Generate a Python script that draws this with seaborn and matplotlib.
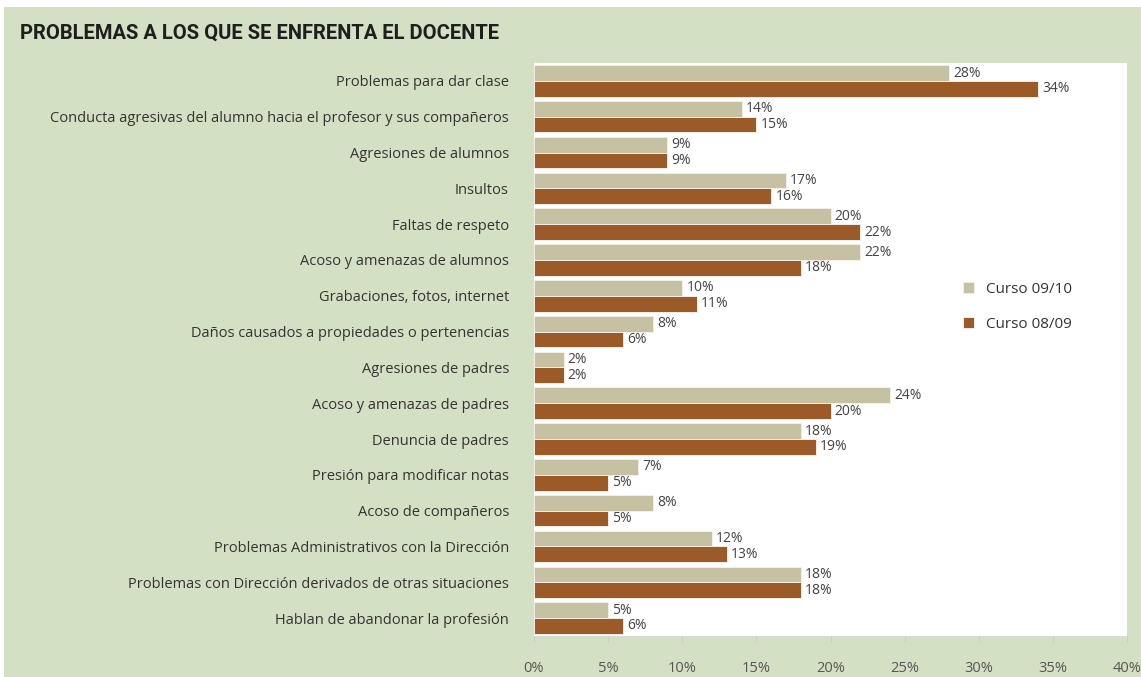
import matplotlib
matplotlib.use("Agg")
import matplotlib.pyplot as plt
from matplotlib.patches import Rectangle
import seaborn as sns
import pandas as pd

# data, top to bottom
categorias = [
    "Problemas para dar clase",
    "Conducta agresivas del alumno hacia el profesor y sus compañeros",
    "Agresiones de alumnos",
    "Insultos",
    "Faltas de respeto",
    "Acoso y amenazas de alumnos",
    "Grabaciones, fotos, internet",
    "Daños causados a propiedades o pertenencias",
    "Agresiones de padres",
    "Acoso y amenazas de padres",
    "Denuncia de padres",
    "Presión para modificar notas",
    "Acoso de compañeros",
    "Problemas Administrativos con la Dirección",
    "Problemas con Dirección derivados de otras situaciones",
    "Hablan de abandonar la profesión",
]
curso_0910 = [28, 14, 9, 17, 20, 22, 10, 8, 2, 24, 18, 7, 8, 12, 18, 5]
curso_0809 = [34, 15, 9, 16, 22, 18, 11, 6, 2, 20, 19, 5, 5, 13, 18, 6]
series = ["Curso 09/10", "Curso 08/09"]
x_ticks = [0, 5, 10, 15, 20, 25, 30, 35, 40]

BG = "#d4e0c4"
C_BEIGE = "#c7c1a4"
C_BROWN = "#9c5a28"

df = pd.DataFrame({
    "problema": categorias * 2,
    "valor": curso_0910 + curso_0809,
    "curso": [series[0]] * len(categorias) + [series[1]] * len(categorias),
})

sns.set_theme(style="white")
plt.rcParams["font.family"] = ["Open Sans", "DejaVu Sans"]

fig = plt.figure(figsize=(11.41, 6.77), dpi=100)
fig.patch.set_facecolor("white")
fig.patches.append(Rectangle((4 / 1141, 0), 1, 670 / 677, transform=fig.transFigure,
                             facecolor=BG, edgecolor="none", zorder=-10))

ax = fig.add_axes([534 / 1141, 1 - 636 / 677, (1127 - 534) / 1141, (636 - 63) / 677])
ax.set_facecolor("white")

sns.barplot(data=df, y="problema", x="valor", hue="curso", orient="h",
            palette=[C_BEIGE, C_BROWN], hue_order=series, width=0.88, gap=0,
            saturation=1, edgecolor="#f3efe6", linewidth=0.7, ax=ax)

for cont in ax.containers:
    ax.bar_label(cont, fmt="%d%%", padding=3, fontsize=10, color="#444444")

ax.set_xlim(0, 40)
ax.set_ylim(len(categorias) - 0.5, -0.5)
ax.set_xticks(x_ticks)
ax.set_xticklabels([f"{t}%" for t in x_ticks])
ax.set_xlabel("")
ax.set_ylabel("")
ax.tick_params(axis="x", bottom=True, length=4, width=0.6, color="#c8c8c8",
               pad=14, labelsize=10.5, labelcolor="#555555")
ax.tick_params(axis="y", left=False, pad=12, labelsize=10.5, labelcolor="#333333")
for side in ["top", "right", "left"]:
    ax.spines[side].set_visible(False)
ax.spines["bottom"].set_color("#d8d8d8")
ax.spines["bottom"].set_linewidth(0.6)

leg = ax.legend(loc="center left", bbox_to_anchor=(0.70, 0.574), frameon=False,
                handlelength=0.7, handleheight=0.7, labelspacing=1.3,
                fontsize=11, labelcolor="#333333")

fig.text(20 / 1141, 1 - 33 / 677, "PROBLEMAS A LOS QUE SE ENFRENTA EL DOCENTE",
         fontsize=14.5, fontweight="bold", color="#1e1e1e", va="center", ha="left",
         family=["Liberation Sans Narrow", "Roboto", "DejaVu Sans"])

fig.savefig("out.png", dpi=100, facecolor=fig.get_facecolor())
